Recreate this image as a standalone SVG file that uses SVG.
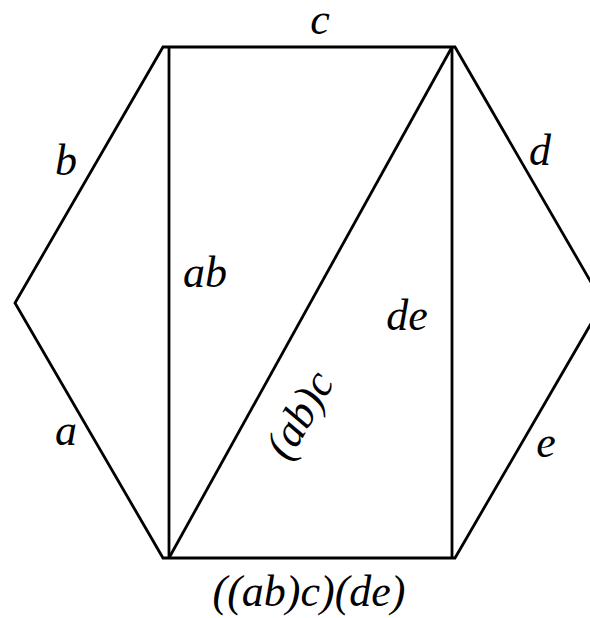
<svg xmlns="http://www.w3.org/2000/svg" width="590" height="618" viewBox="0 0 590 618">
<style>
.ln{stroke:#000;stroke-width:2.8;fill:none;stroke-linejoin:miter}
.t{font-family:"Liberation Serif","Times New Roman",serif;font-style:italic;font-size:44px;fill:#000}
</style>
<rect width="590" height="618" fill="#fff"/>
<g id="connectors">
<polygon class="ln" points="163,47 455,47 603,303 455,558 163,558 15,303"/>
<line class="ln" x1="169" y1="47" x2="169" y2="558"/>
<line class="ln" x1="452" y1="47" x2="452" y2="558"/>
<line class="ln" x1="169" y1="558" x2="452" y2="47"/>
</g>
<g id="labels">
<text class="t" x="320" y="34" text-anchor="middle">c</text>
<text class="t" x="66" y="175" text-anchor="middle">b</text>
<text class="t" x="540" y="165" text-anchor="middle">d</text>
<text class="t" x="66" y="445" text-anchor="middle">a</text>
<text class="t" x="546" y="457" text-anchor="middle">e</text>
<text class="t" x="205" y="287" text-anchor="middle">ab</text>
<text class="t" x="407" y="330" text-anchor="middle">de</text>
<text class="t" x="0" y="0" text-anchor="middle" transform="translate(312,422) rotate(-60)">(ab)c</text>
<text class="t" x="309" y="606" text-anchor="middle">((ab)c)(de)</text>
</g>
</svg>
